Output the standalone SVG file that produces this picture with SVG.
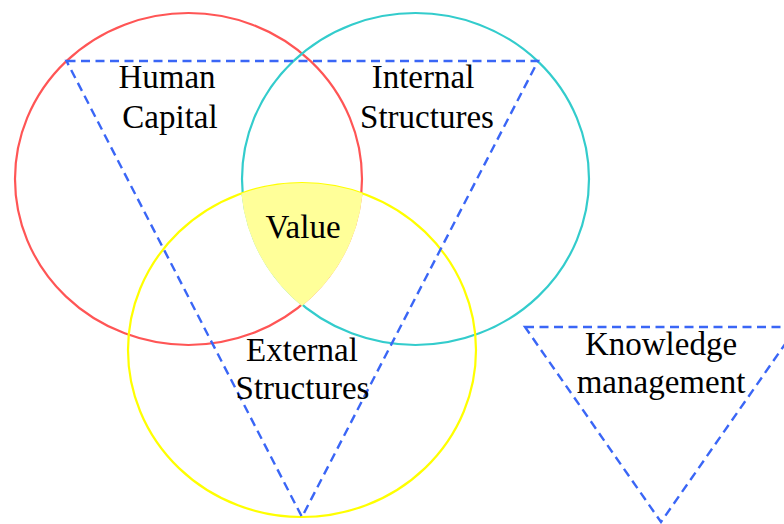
<svg xmlns="http://www.w3.org/2000/svg" width="784" height="524" viewBox="0 0 784 524">
<style>
.c{fill:none;stroke-width:2.2}
.t{fill:none;stroke:#3a66f6;stroke-width:2.4;stroke-dasharray:9,5.5;stroke-linejoin:miter}
text{font-family:"Liberation Serif","Times New Roman",serif;font-size:33px;fill:#000;text-anchor:middle}
</style>
<defs>
<clipPath id="cr"><ellipse cx="188.5" cy="179" rx="174.8" ry="167.3"/></clipPath>
<clipPath id="ct"><ellipse cx="415.5" cy="179" rx="174.8" ry="167.3"/></clipPath>
</defs>
<rect width="784" height="524" fill="#fff"/>
<g id="human-capital">
<ellipse class="c" cx="188.5" cy="179" rx="173.5" ry="166" stroke="#ff5555"/>
</g>
<g id="internal-structures">
<ellipse class="c" cx="415.5" cy="179" rx="173.5" ry="166" stroke="#33cccc"/>
</g>
<g id="external-structures">
<ellipse class="c" cx="302" cy="350" rx="174" ry="167" stroke="#ffff00"/>
</g>
<g id="value">
<g clip-path="url(#cr)"><g clip-path="url(#ct)">
<ellipse cx="302" cy="350" rx="174" ry="167" fill="#ffff99"/>
</g></g>
<text x="303" y="238">Value</text>
</g>
<g id="connectors">
<polygon class="t" points="66.5,61 538,61 302,517"/>
<polygon class="t" points="525,327 797,327 661,522"/>
</g>
<g id="labels">
<text x="167" y="88">Human</text>
<text x="170" y="128">Capital</text>
<text x="423" y="88">Internal</text>
<text x="427" y="128">Structures</text>
<text x="302" y="361">External</text>
<text x="302.5" y="399">Structures</text>
</g>
<g id="knowledge-management">
<text x="661" y="355">Knowledge</text>
<text x="661" y="393">management</text>
</g>
</svg>
